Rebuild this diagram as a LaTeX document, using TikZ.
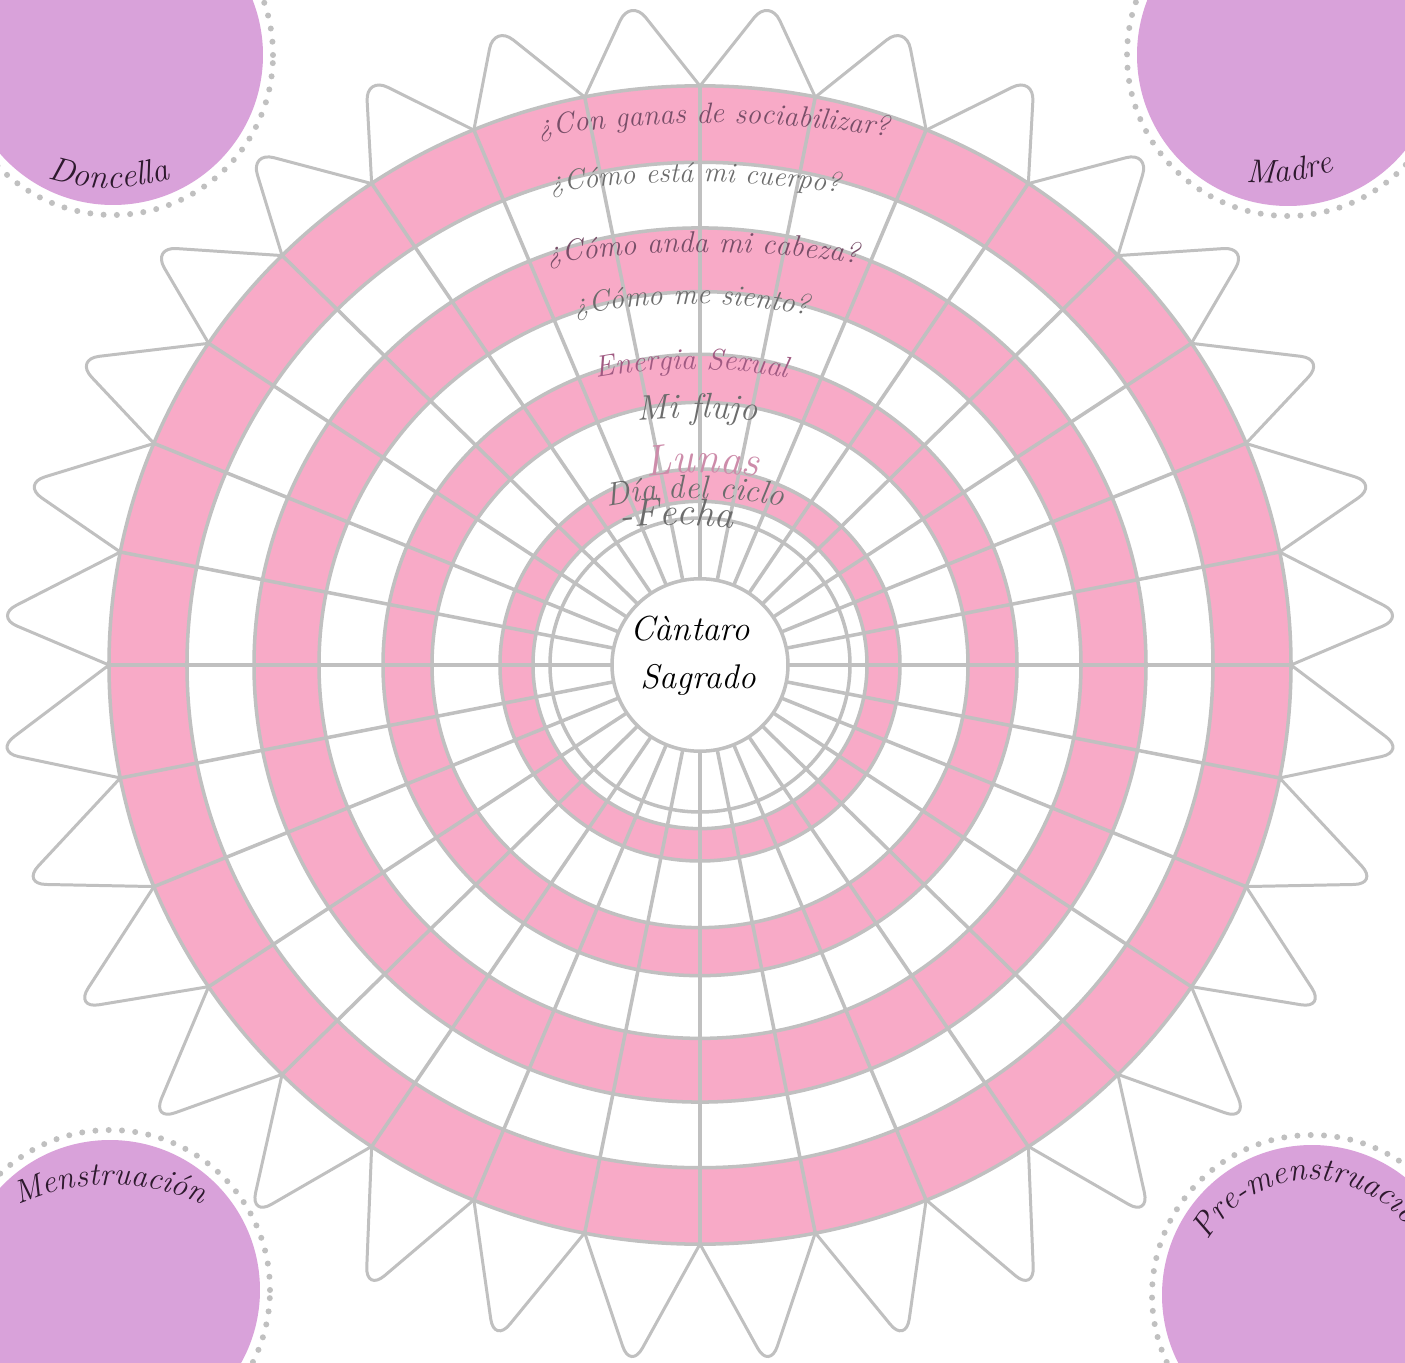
\documentclass[tikz,border=0pt]{standalone}
\usetikzlibrary{decorations.text}

\definecolor{rosa}{RGB}{248,170,199}
\definecolor{gris}{RGB}{192,192,192}
\definecolor{lila}{RGB}{217,162,218}
\definecolor{malva}{RGB}{120,78,104}
\definecolor{grisosc}{RGB}{108,108,108}
\definecolor{rosaosc}{RGB}{160,90,130}
\definecolor{rosaluna}{RGB}{205,140,170}
\definecolor{tinta}{RGB}{45,25,45}

\newcommand{\letra}[1]{\itshape\fontsize{#1}{#1}\selectfont}

\begin{document}
\begin{tikzpicture}[
  x=0.02cm, y=0.02cm,
  linea/.style={gris, line width=2pt},
  petalo/.style={gris, line width=1.7pt, rounded corners=14pt},
  puntos/.style={gris, line width=1.2mm, line cap=round, dash pattern=on 0pt off 2.66mm},
  rotulo/.style={decorate, decoration={text along path, text align=center, text={#1}}}
]

  % ==========================================
  % 1. MARCO
  % ==========================================
  \useasboundingbox (-700,-697) rectangle (705,665);
  \clip (-700,-697) rectangle (705,665);
  \fill[white] (-700,-697) rectangle (705,665);

  % ==========================================
  % 2. PÉTALOS (alrededor del anillo exterior)
  % ==========================================
  \foreach \k in {0,...,31}{
    \pgfmathsetmacro{\a}{\k*11.25}
    \pgfmathsetmacro{\b}{\a+11.25}
    \pgfmathsetmacro{\m}{\a+5.625}
    \draw[petalo] ({591*cos(\a)},{579*sin(\a)}) -- ({709*cos(\m)},{-19+689*sin(\m)})
      -- ({591*cos(\b)},{579*sin(\b)});
  }

  % ==========================================
  % 3. ANILLOS Y RADIOS
  % ==========================================
  \begin{scope}[yscale=0.98]
    % bandas rosas
    \foreach \ri/\re in {167/200, 268/317, 381/446, 513/591}
      \fill[rosa, even odd rule] (0,0) circle[radius=\re] circle[radius=\ri];
    % circunferencias
    \foreach \r in {88,150,167,200,268,317,381,446,513,591}
      \draw[linea] (0,0) circle[radius=\r];
    % radios
    \foreach \k in {0,...,31}
      \draw[linea] ({\k*11.25}:88) -- ({\k*11.25}:591);
  \end{scope}

  % ==========================================
  % 4. RÓTULOS DE LOS ANILLOS
  % ==========================================
  \path[rotulo={|\letra{16.7}\color{malva}|¿Con ganas de sociabilizar?}]
    ([shift={(14,-558)}]104:1100) arc[start angle=104, end angle=76, radius=1100];
  \path[rotulo={|\letra{16.2}\color{grisosc}|¿Cómo está mi cuerpo?}]
    ([shift={(-5,-467)}]104:950) arc[start angle=104, end angle=76, radius=950];
  \path[rotulo={|\letra{16.9}\color{malva}|¿Cómo anda mi cabeza?}]
    ([shift={(3,-587)}]104:1000) arc[start angle=104, end angle=76, radius=1000];
  \path[rotulo={|\letra{16.7}\color{grisosc}|¿Cómo me siento?}]
    ([shift={(-8,-239)}]108:600) arc[start angle=108, end angle=72, radius=600];
  \path[rotulo={|\letra{17}\color{rosaosc}|Energia Sexual}]
    ([shift={(-8,-224)}]108:520) arc[start angle=108, end angle=72, radius=520];
  \path[rotulo={|\letra{20}\color{grisosc}|Mi flujo}]
    ([shift={(-3,-453)}]100:700) arc[start angle=100, end angle=80, radius=700];
  \path[rotulo={|\letra{24.7}\color{rosaluna}|Lunas}]
    ([shift={(2,-208)}]105:400) arc[start angle=105, end angle=75, radius=400];
  \path[rotulo={|\letra{18.6}\color{grisosc}|Día del ciclo}]
    ([shift={(-5,-283)}]110:450) arc[start angle=110, end angle=70, radius=450];
  \path[rotulo={|\letra{22.2}\color{grisosc}|-Fecha}]
    ([shift={(-23,-360)}]102:500) arc[start angle=102, end angle=78, radius=500];

  % centro
  \node[font=\letra{19.8}, text=black, anchor=base] (cantaro) at (-10,25) {Càntaro};
  \node[font=\letra{19.5}, text=black, anchor=base] (sagrado) at (-2,-23) {Sagrado};

  % ==========================================
  % 5. CÍRCULOS DE LAS ESQUINAS
  % ==========================================
  \fill[lila] (-587,610) circle[radius=150];
  \draw[puntos] (-587,610) circle[radius=160];
  \fill[lila] (588,610) circle[radius=151];
  \draw[puntos] (588,610) circle[radius=161];
  \fill[lila] (-590,-625) circle[radius=150];
  \draw[puntos] (-590,-625) circle[radius=160];
  \fill[lila] (612,-630) circle[radius=150];
  \draw[puntos] (612,-630) circle[radius=160];

  \path[rotulo={|\letra{19.3}\color{tinta}|Doncella}]
    ([shift={(-591,677)}]240:200) arc[start angle=240, end angle=300, radius=200];
  \path[rotulo={|\letra{18.8}\color{tinta}|Madre}]
    ([shift={(565,682)}]245:200) arc[start angle=245, end angle=310, radius=200];
  \path[rotulo={|\letra{18.4}\color{tinta}|Menstruación}]
    ([shift={(-590,-744)}]130:224) arc[start angle=130, end angle=50, radius=224];
  \path[rotulo={|\letra{18.8}\color{tinta}|Pre-menstruación}]
    ([shift={(612,-635)}]180:120) arc[start angle=180, end angle=0, radius=120];

\end{tikzpicture}
\end{document}
